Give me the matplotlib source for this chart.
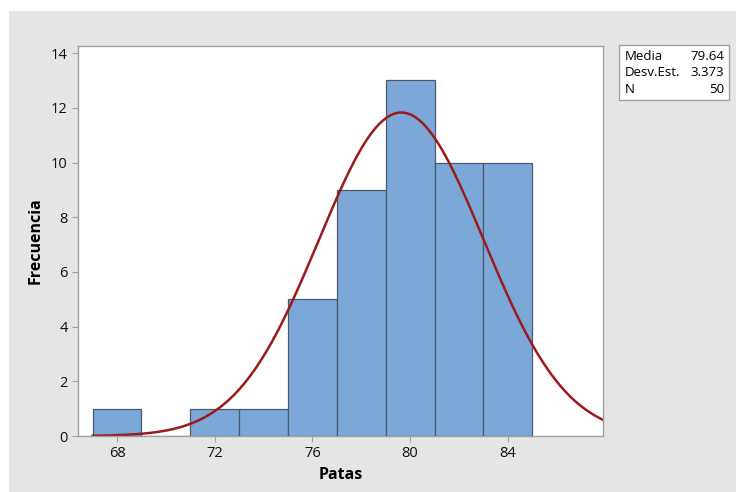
import matplotlib.pyplot as plt
from matplotlib.patches import Rectangle
import numpy as np

plt.rcParams['font.family'] = ['Open Sans', 'DejaVu Sans']

# histogram data (bin centres, counts)
bin_centres = [68, 70, 72, 74, 76, 78, 80, 82, 84]
counts = [1, 0, 1, 1, 5, 9, 13, 10, 10]
bin_width = 2
media = 79.64
desv_est = 3.373
n_total = 50

grey = '#e5e5e5'
fig = plt.figure(figsize=(7.36, 4.92), dpi=100)
fig.patch.set_facecolor('white')
fig.patches.append(Rectangle((9 / 736, 0), 1, 1 - 11 / 492, transform=fig.transFigure,
                             facecolor=grey, edgecolor='none', zorder=-10))

ax = fig.add_axes([78 / 736, 1 - 436 / 492, 525 / 736, 390 / 492])
ax.set_facecolor('white')
ax.bar(bin_centres, counts, width=bin_width, color='#7ba7d9', edgecolor='#4a5a6a', linewidth=0.9)

# fitted normal curve
x = np.linspace(67, 88, 300)
y = n_total * bin_width / (desv_est * np.sqrt(2 * np.pi)) * np.exp(-0.5 * ((x - media) / desv_est) ** 2)
ax.plot(x, y, color='#9b1b1b', linewidth=1.8)

ax.set_xlim(66.4, 87.9)
ax.set_ylim(0, 14.26)
ax.set_xticks([68, 72, 76, 80, 84])
ax.set_yticks(range(0, 15, 2))
for s in ax.spines.values():
    s.set_color('#a0a0a0')
    s.set_linewidth(1.0)
ax.tick_params(colors='#a0a0a0', labelcolor='#111111', labelsize=10.5, length=4)
ax.set_xlabel('Patas', fontsize=11.5, fontweight='bold', labelpad=4)
ax.set_ylabel('Frecuencia', fontsize=11.5, fontweight='bold', labelpad=5)

# statistics box
fig.patches.append(Rectangle((619 / 736, 1 - 100 / 492), 110 / 736, 55 / 492, transform=fig.transFigure,
                             facecolor='white', edgecolor='#a0a0a0', linewidth=1.0))
rows = [('Media', f'{media:.2f}'), ('Desv.Est.', f'{desv_est:.3f}'), ('N', f'{n_total}')]
for i, (k, v) in enumerate(rows):
    yy = 1 - (56 + i * 17) / 492
    fig.text(625 / 736, yy, k, fontsize=9.5, va='center', ha='left')
    fig.text(724 / 736, yy, v, fontsize=9.5, va='center', ha='right')

plt.savefig('out.png', dpi=100)
